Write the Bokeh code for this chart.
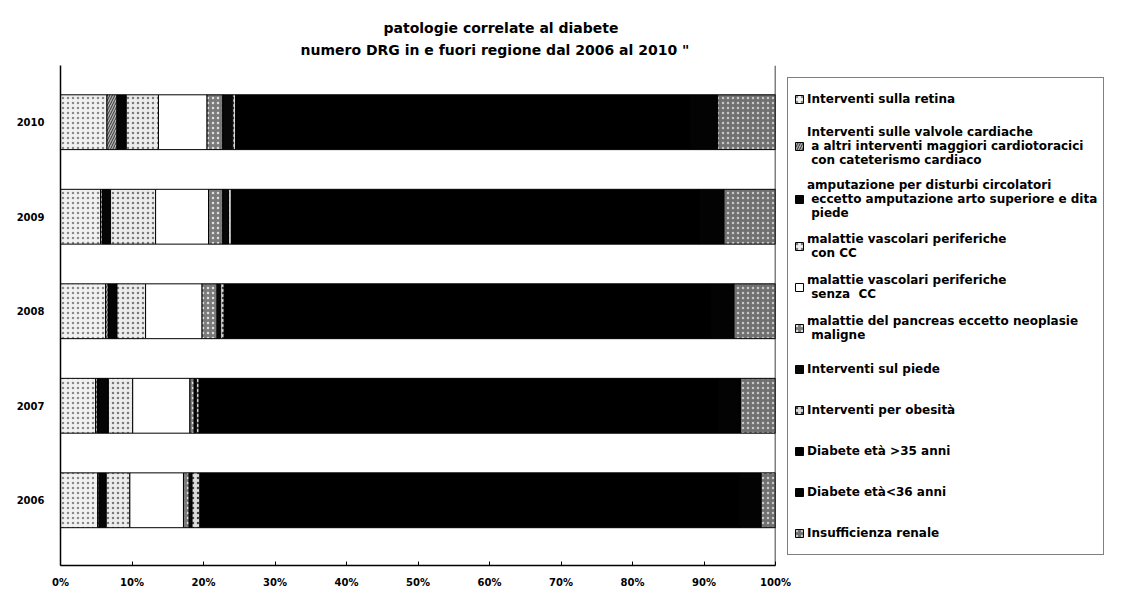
from bokeh.plotting import figure
from bokeh.models import (ColumnDataSource, Range1d, FixedTicker, PrintfTickFormatter,
                          Legend, LegendItem, Title, Span)
from bokeh.embed import file_html
from bokeh.resources import INLINE

years = ["2006", "2007", "2008", "2009", "2010"]

series = [
    "Interventi sulla retina",
    "Interventi sulle valvole cardiache\n a altri interventi maggiori cardiotoracici\n con cateterismo cardiaco",
    "amputazione per disturbi circolatori\n eccetto amputazione arto superiore e dita\n piede",
    "malattie vascolari periferiche\n con CC",
    "malattie vascolari periferiche\n senza  CC",
    "malattie del pancreas eccetto neoplasie\n maligne",
    "Interventi sul piede",
    "Interventi per obesità",
    "Diabete età >35 anni",
    "Diabete età<36 anni",
    "Insufficienza renale",
]

# percentage shares per year (2006 .. 2010)
retina      = [5.2, 4.9, 6.3, 5.6, 6.5]
valvole     = [0.2, 0.3, 0.4, 0.3, 1.4]
amputazione = [1.0, 1.5, 1.2, 1.1, 1.3]
vasc_cc     = [3.3, 3.4, 4.0, 6.3, 4.5]
vasc_senza  = [7.5, 8.0, 7.9, 7.4, 6.8]
pancreas    = [0.8, 0.6, 2.1, 2.0, 2.2]
piede       = [0.4, 0.3, 0.5, 0.8, 1.4]
obesita     = [1.1, 0.4, 0.5, 0.4, 0.4]
diab_over35 = [75.5, 72.6, 68.0, 65.4, 63.5]
diab_under36 = [3.0, 3.1, 3.3, 3.5, 3.9]
renale      = [2.0, 4.9, 5.8, 7.2, 8.1]

x_ticks = [0, 10, 20, 30, 40, 50, 60, 70, 80, 90, 100]

keys = ["s%d" % i for i in range(len(series))]
values = [retina, valvole, amputazione, vasc_cc, vasc_senza, pancreas, piede,
          obesita, diab_over35, diab_under36, renale]
data = {"y": list(range(len(years)))}
for k, v in zip(keys, values):
    data[k] = v
source = ColumnDataSource(data)

fills   = ["#f1f1f1", "#b0b0b0", "#050505", "#ececec", "#ffffff", "#7a7a7a",
           "#080808", "#dcdcdc", "#000000", "#030303", "#707070"]
hatches = ["dot", "right_diagonal_line", " ", "dot", " ", "dot",
           " ", "dot", " ", " ", "dot"]
hcolors = ["#8a8a8a", "#333333", "#000000", "#7a7a7a", "#000000", "#e0e0e0",
           "#000000", "#444444", "#000000", "#000000", "#c8c8c8"]

p = figure(frame_width=715, frame_height=500, output_backend="svg",
           toolbar_location=None, x_range=Range1d(0, 100),
           y_range=Range1d(-0.69, 4.6), min_border_left=60, min_border_bottom=30,
           min_border_top=65)

renderers = p.hbar_stack(keys, y="y", height=0.58, source=source,
                         fill_color=fills, hatch_pattern=hatches,
                         hatch_color=hcolors, hatch_scale=5, hatch_weight=1,
                         line_color="black", line_width=1)

p.add_layout(Span(location=100, dimension="height", line_color="black", line_width=1.5))

p.xgrid.visible = False
p.ygrid.visible = False
p.outline_line_color = None

p.xaxis.ticker = FixedTicker(ticks=x_ticks)
p.xaxis.formatter = PrintfTickFormatter(format="%d%%")
p.xaxis.major_label_text_font = "DejaVu Sans"
p.xaxis.major_label_text_font_style = "bold"
p.xaxis.major_label_text_font_size = "10px"
p.xaxis.major_label_text_color = "black"
p.xaxis.major_label_standoff = 11
p.xaxis.major_tick_in = 4
p.xaxis.major_tick_out = 0
p.xaxis.major_tick_line_color = "black"
p.xaxis.minor_tick_line_color = None
p.xaxis.axis_line_width = 1.5
p.xaxis.axis_line_color = "black"

p.yaxis.ticker = FixedTicker(ticks=list(range(len(years))))
p.yaxis.major_label_overrides = {i: y for i, y in enumerate(years)}
p.yaxis.major_label_text_font = "DejaVu Sans"
p.yaxis.major_label_text_font_style = "bold"
p.yaxis.major_label_text_font_size = "10px"
p.yaxis.major_label_text_color = "black"
p.yaxis.major_label_standoff = 10
p.yaxis.major_tick_line_color = None
p.yaxis.minor_tick_line_color = None
p.yaxis.axis_line_width = 1.5
p.yaxis.axis_line_color = "black"

items = [LegendItem(label=s, renderers=[r]) for s, r in zip(series, renderers)]
legend = Legend(items=items, location="top_left", margin=12, padding=6,
                spacing=11, glyph_width=10, glyph_height=10, label_standoff=3,
                label_height=30, label_text_font="DejaVu Sans",
                label_text_font_size="12px", label_text_font_style="bold",
                label_text_line_height=1.0,
                label_text_color="black",
                border_line_color="black", border_line_width=1.5,
                background_fill_color="white")
p.add_layout(legend, "right")

t2 = Title(text="numero DRG  in e fuori regione dal 2006 al 2010 \"", align="left",
           offset=240, text_font="DejaVu Sans", text_font_style="bold",
           text_font_size="14px", text_color="black", standoff=15)
t1 = Title(text="patologie correlate al diabete", align="left", offset=323,
           text_font="DejaVu Sans", text_font_style="bold",
           text_font_size="14px", text_color="black", standoff=-6)
p.add_layout(t2, "above")
p.add_layout(t1, "above")

open("out.html", "w").write(file_html(p, INLINE))
